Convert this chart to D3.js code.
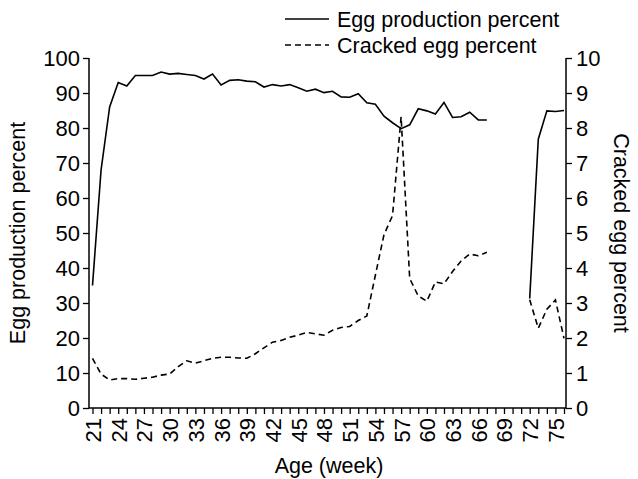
<!DOCTYPE html>
<html><head><meta charset="utf-8">
<script src="https://cdn.jsdelivr.net/npm/d3@7"></script>
<style>body{margin:0;background:#fff}svg{display:block}text{font-family:"Liberation Sans",Arial,sans-serif;fill:#000}</style>
</head><body>
<svg id="c" width="638" height="479"></svg>
<script>
const weeks = d3.range(21, 77);
const eggProduction = [35,68,86,93,92,95,95,95,96,95.4,95.6,95.3,95,94,95.4,92.3,93.6,93.8,93.4,93.2,91.7,92.4,92,92.4,91.5,90.5,91.1,90.1,90.5,88.9,88.8,89.8,87.2,86.8,83.4,81.5,79.8,80.9,85.5,84.9,84,87.3,83,83.2,84.5,82.3,82.3,null,null,null,null,31.3,76.8,84.9,84.7,85];
const crackedEgg = [1.42,0.97,0.8,0.84,0.84,0.82,0.85,0.88,0.94,0.97,1.18,1.35,1.28,1.35,1.42,1.45,1.45,1.43,1.42,1.55,1.72,1.88,1.93,2.02,2.08,2.16,2.12,2.08,2.22,2.3,2.33,2.5,2.63,3.8,4.95,5.5,8.32,3.7,3.2,3.05,3.6,3.55,3.9,4.2,4.4,4.35,4.45,null,null,null,null,3.09,2.28,2.82,3.09,1.99];
const leftTicks = [0,10,20,30,40,50,60,70,80,90,100];
const rightTicks = [0,1,2,3,4,5,6,7,8,9,10];
const xLabelWeeks = d3.range(21, 76, 3);

const svg = d3.select("#c");
const L = 89, R = 566, T = 58, B = 408;
const FS = 21.5, TFS = 22;
const x = d3.scaleLinear().domain([21, 76]).range([92.5, 564]);
const yL = d3.scaleLinear().domain([0, 100]).range([B, T]);
const yR = d3.scaleLinear().domain([0, 10]).range([B, T]);

const gL = svg.append("g").attr("transform", `translate(${L},0)`)
  .call(d3.axisLeft(yL).tickValues(leftTicks).tickSize(6).tickPadding(3));
const gR = svg.append("g").attr("transform", `translate(${R},0)`)
  .call(d3.axisRight(yR).tickValues(rightTicks).tickSize(6).tickPadding(4));
const gB = svg.append("g").attr("transform", `translate(0,${B})`)
  .call(d3.axisBottom(x).tickValues(weeks).tickSize(6)
    .tickFormat(d => xLabelWeeks.includes(d) ? d : ""));
[gL, gR, gB].forEach(g => {
  g.selectAll("path.domain").remove();
  g.selectAll("line").attr("stroke", "#000").attr("stroke-width", 1.3);
  g.selectAll("text").attr("font-size", TFS).attr("fill", "#000")
    .style("font-family", '"Liberation Sans", Arial, sans-serif');
});
gB.selectAll("text")
  .attr("transform", "rotate(-90)")
  .attr("text-anchor", "end")
  .attr("x", -10).attr("y", 0).attr("dy", "0.36em");

svg.append("line").attr("x1", L).attr("x2", L).attr("y1", T).attr("y2", B).attr("stroke", "#000").attr("stroke-width", 1.5);
svg.append("line").attr("x1", R).attr("x2", R).attr("y1", T).attr("y2", B).attr("stroke", "#000").attr("stroke-width", 1.5);
svg.append("line").attr("x1", L).attr("x2", R).attr("y1", B).attr("y2", B).attr("stroke", "#000").attr("stroke-width", 1.5);

const lineL = d3.line().defined(d => d[1] != null).x(d => x(d[0])).y(d => yL(d[1]));
const lineR = d3.line().defined(d => d[1] != null).x(d => x(d[0])).y(d => yR(d[1]));
svg.append("path").datum(weeks.map((w, i) => [w, eggProduction[i]]))
  .attr("d", lineL).attr("fill", "none").attr("stroke", "#000").attr("stroke-width", 1.6);
svg.append("path").datum(weeks.map((w, i) => [w, crackedEgg[i]]))
  .attr("d", lineR).attr("fill", "none").attr("stroke", "#000").attr("stroke-width", 1.6)
  .attr("stroke-dasharray", "6,4");

svg.append("text").attr("transform", "translate(25,233) rotate(-90)")
  .attr("text-anchor", "middle").attr("font-size", FS).text("Egg production percent");
svg.append("text").attr("transform", "translate(614,233) rotate(90)")
  .attr("text-anchor", "middle").attr("font-size", FS).text("Cracked egg percent");
svg.append("text").attr("x", 329).attr("y", 473)
  .attr("text-anchor", "middle").attr("font-size", FS).text("Age (week)");

const legend = [{label: "Egg production percent", dash: null, y: 19},
                {label: "Cracked egg percent", dash: "6,4", y: 45}];
legend.forEach(d => {
  svg.append("line").attr("x1", 285).attr("x2", 329).attr("y1", d.y).attr("y2", d.y)
    .attr("stroke", "#000").attr("stroke-width", 1.6).attr("stroke-dasharray", d.dash);
  svg.append("text").attr("x", 337).attr("y", d.y).attr("dy", "0.35em")
    .attr("font-size", FS).text(d.label);
});
</script>
</body></html>
